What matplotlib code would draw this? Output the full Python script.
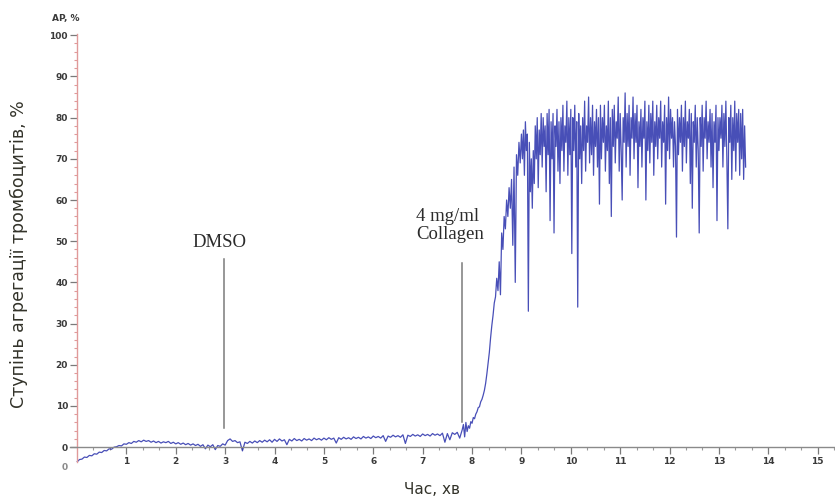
import numpy as np
import matplotlib
matplotlib.use("Agg")
import matplotlib.pyplot as plt

# Platelet aggregation trace (AP, %) sampled in three segments
baseline_start, baseline_step = 0.0, 0.05
baseline_values = [
    -3.6, -3.0, -2.9, -2.4, -2.5, -2.0, -2.1, -1.6, -1.7, -1.2,
    -1.3, -0.8, -0.9, -0.4, -0.5, 0.0, 0.1, 0.4, 0.3, 0.8,
    0.7, 1.1, 0.9, 1.4, 1.2, 1.6, 1.3, 1.7, 1.4, 1.6,
    1.2, 1.5, 1.1, 1.4, 1.0, 1.3, 1.1, 1.4, 0.9, 1.2,
    0.8, 1.1, 0.7, 1.0, 0.6, 0.9, 0.5, 0.8, 0.4, 0.7,
    0.2, 0.6, -0.4, 0.5, 0.1, 0.6, -0.6, 0.4, 0.2, 0.8,
    0.5, 1.6, 2.0, 1.4, 1.6, 1.1, 1.3, -0.9, 1.2, 0.9,
    1.4, 1.0, 1.5, 1.1, 1.6, 1.2, 1.7, 1.3, 1.8, 1.2,
    1.9, 1.4, 2.0, 1.5, 1.8, 0.6, 1.9, 1.5, 2.1, 1.6,
    1.9, 1.5, 2.1, 1.7, 2.0, 1.6, 2.2, 1.8, 2.1, 1.7,
    2.2, 1.8, 2.3, 1.9, 2.2, 1.0, 2.3, 1.9, 2.4, 2.0,
    2.3, 1.9, 2.5, 2.1, 2.4, 2.0, 2.6, 2.2, 2.5, 2.1,
    2.7, 2.3, 2.6, 2.2, 2.8, 1.4, 2.7, 2.4, 2.9, 2.5,
    2.8, 2.4, 3.0, 0.9, 2.9, 2.6, 3.1, 2.7, 3.0, 2.6,
    3.2, 2.8, 3.1, 2.7, 3.3, 2.9, 3.2, 2.8, 3.4, 1.2,
    3.3, 1.8, 3.5, 3.1, 3.6, 2.2, 4.2,
]

rise_start, rise_step = 7.825, 0.025
rise_values = [
    5.5, 2.5, 6.0, 3.8, 5.2, 4.6, 6.2, 5.8, 7.2, 6.9,
    8.0, 8.6, 9.6, 9.8, 11.0, 11.6, 12.6, 13.8, 15.5, 17.8,
    20.5, 23.0, 26.5, 29.5, 32.0, 35.0, 36.5, 41.0, 38.0, 45.0,
    37.0, 52.0, 48.0, 56.0, 53.0, 60.0, 56.0, 63.0, 58.0, 65.0,
    49.0, 68.0, 40.0, 71.0, 66.0, 74.0, 69.0, 76.0,
]

plateau_start, plateau_step = 9.02, 0.02
plateau_values = [
    70, 77, 66, 79, 72, 76, 33, 74, 62, 70,
    58, 72, 64, 78, 70, 80, 63, 77, 71, 81,
    68, 80, 73, 78, 62, 81, 71, 82, 55, 79,
    70, 81, 52, 78, 73, 82, 67, 79, 64, 80,
    72, 83, 67, 78, 74, 84, 66, 80, 71, 82,
    47, 80, 72, 83, 68, 79, 34, 81, 70, 78,
    64, 80, 72, 84, 67, 78, 74, 85, 69, 80,
    71, 83, 66, 79, 73, 82, 68, 80, 59, 83,
    70, 80, 74, 83, 67, 78, 72, 84, 64, 80,
    56, 82, 73, 83, 69, 79, 75, 85, 67, 81,
    72, 60, 80, 74, 86, 68, 81, 73, 83, 66,
    80, 75, 85, 70, 81, 74, 83, 63, 79, 73,
    82, 68, 80, 75, 84, 60, 79, 72, 83, 69,
    81, 74, 84, 66, 79, 73, 83, 70, 80, 75,
    84, 68, 79, 74, 83, 59, 80, 72, 85, 70,
    82, 75, 80, 68, 79, 73, 51, 82, 71, 80,
    74, 83, 67, 80, 73, 84, 69, 79, 75, 82,
    64, 81, 58, 79, 74, 83, 68, 80, 72, 52,
    80, 73, 83, 67, 80, 75, 84, 70, 79, 74,
    82, 68, 81, 63, 79, 74, 83, 55, 80, 72,
    80, 75, 83, 68, 81, 73, 84, 70, 53, 80,
    74, 83, 65, 80, 72, 84, 67, 81, 74, 82,
    66, 81, 70, 82, 65, 78, 68,
]

# Reagent additions: time (min), label, marker line extent (AP, %)
event_times = [2.98, 7.79]
event_labels = ["DMSO", "4 mg/ml\nCollagen"]
event_line_low = [4.6, 6.0]
event_line_high = [45.8, 44.8]
event_label_x = [2.33, 6.86]
event_label_y = [47.7, 49.6]

x_ticks = list(range(1, 16))
y_ticks = list(range(0, 101, 10))


def segment(start, step, values):
    return start + step * np.arange(len(values)), np.asarray(values, float)


segs = [segment(baseline_start, baseline_step, baseline_values),
        segment(rise_start, rise_step, rise_values),
        segment(plateau_start, plateau_step, plateau_values)]
t = np.concatenate([s[0] for s in segs])
ap = np.concatenate([s[1] for s in segs])

fig = plt.figure(figsize=(8.35, 5.0), dpi=100)
ax = fig.add_axes([70 / 835, 38 / 500, 765 / 835, 428 / 500])
ax.set_xlim(-0.142, 15.35)
ax.set_ylim(-3.6, 100.3)

ax.plot(t, ap, color="#2028a8", lw=0.9, alpha=0.82)

# Reagent markers
for et, lo, hi in zip(event_times, event_line_low, event_line_high):
    ax.plot([et, et], [lo, hi], color="#7a7a7a", lw=1.1)
for lab, lx, ly in zip(event_labels, event_label_x, event_label_y):
    ax.text(lx, ly, lab, ha="left", va="bottom",
            family="Liberation Serif", fontsize=13.5, color="#2b2b2b",
            linespacing=1.05)

# Axes styling
for s in ("top", "right"):
    ax.spines[s].set_visible(False)
ax.spines["left"].set_position(("data", 0))
ax.spines["left"].set_color("#e09a9a")
ax.spines["left"].set_linewidth(1.0)
ax.spines["bottom"].set_position(("data", 0))
ax.spines["bottom"].set_color("#8a8a8a")
ax.spines["bottom"].set_linewidth(1.0)

tick_font = dict(family="DejaVu Sans", weight="bold", size=6.5)
ax.set_yticks(y_ticks)
ax.set_yticklabels([str(v) for v in y_ticks], color="#3a3a3a", **tick_font)
ax.set_yticks(np.arange(0, 100, 2), minor=True)
ax.tick_params(axis="y", which="major", direction="out", length=5, width=0.9,
               color="#7a7a7a", pad=1.5)
ax.tick_params(axis="y", which="minor", direction="out", length=2.5, width=0.8,
               color="#e09a9a")

ax.set_xticks(x_ticks)
ax.set_xticklabels([str(v) for v in x_ticks], color="#3a3a3a", **tick_font)
ax.set_xticks(np.arange(1 / 3, 15.34, 1 / 3), minor=True)
ax.tick_params(axis="x", which="major", direction="out", length=5, width=0.9,
               color="#7a7a7a", pad=2)
ax.tick_params(axis="x", which="minor", direction="out", length=2.5, width=0.8,
               color="#9a9a9a")

ax.text(-0.24, -5.0, "0", ha="center", va="center", color="#8a8a8a",
        clip_on=False, **tick_font)
fig.text(66 / 835, 1 - 18 / 500, "AP, %", ha="center", va="center",
         color="#3a3a3a", family="DejaVu Sans", weight="bold", size=6.5)

fig.text(19 / 835, 1 - 254 / 500, "Ступінь агрегації тромбоцитів, %",
         rotation=90, ha="center", va="center", family="DejaVu Sans",
         fontsize=12.5, color="#33332a")
fig.text(432 / 835, 1 - 490 / 500, "Час, хв", ha="center", va="center",
         family="DejaVu Sans", fontsize=11, color="#33332a")

fig.savefig("out.png", dpi=100, facecolor="white")
